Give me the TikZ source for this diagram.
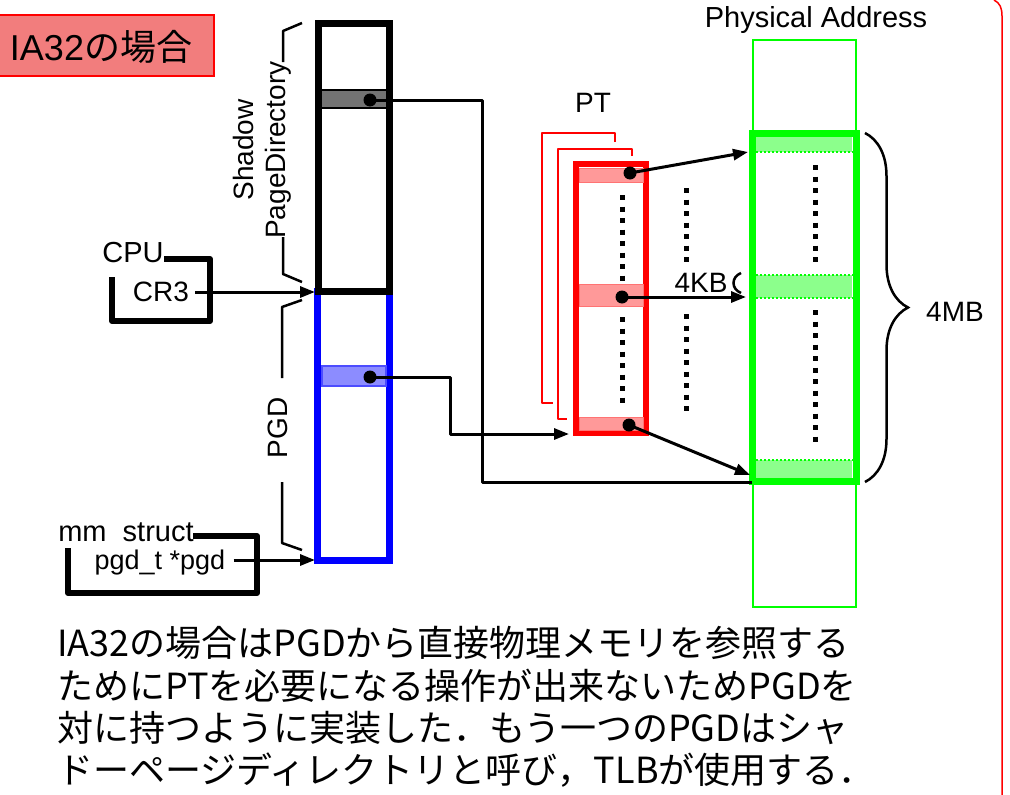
\documentclass[tikz,border=0pt]{standalone}
\usepackage{fontspec}
\setmainfont{Liberation Sans}
\newfontfamily\cjk{Noto Sans CJK JP}
\usetikzlibrary{arrows.meta,decorations.pathreplacing,calc}
\definecolor{pgreen}{RGB}{0,255,0}
\definecolor{pblue}{RGB}{0,0,255}
\definecolor{pred}{RGB}{255,0,0}
\definecolor{titlefill}{RGB}{242,125,125}
\begin{document}
\begin{tikzpicture}[x=1pt,y=-1pt,
  box/.style={shape=rectangle,inner sep=0pt},
  lab/.style={inner sep=0pt,font=\fontsize{28}{32}\selectfont},
  btext/.style={inner sep=0pt,anchor=base west,font=\cjk\fontsize{36}{40}\selectfont},
  conn/.style={line width=3,line join=round},
  arr/.style={conn,-{Triangle[length=15pt,width=11pt]}},
  dotcol/.style={line width=5,dash pattern=on 5pt off 6.5pt},
  bracket/.style={line width=2.5,line join=round},
  holder/.style={line width=6,line join=round}]
\useasboundingbox (0,0) rectangle (1010,795);

% title
\node[box,draw=pred,line width=2,fill=titlefill,minimum width=217,minimum height=61] (title) at (105.5,45.5) {};
\node[inner sep=0pt,font=\fontsize{36}{40}\selectfont] (titletext) at (101,47) {IA32{\cjk の場合}};

% right page border
\draw[pred,line width=1.5] (994,0) .. controls (1000,3) and (1002,8) .. (1002,16) -- (1002,795);

% Physical memory
\node[box,draw=pgreen,line width=2,minimum width=103,minimum height=567] (pmem) at (804.5,323.5) {};
\node[box,draw=pgreen,line width=7,minimum width=104,minimum height=348] (pa) at (804,307) {};
\node[box,fill=pgreen!45,minimum width=96,minimum height=15] (g1) at (804,144.5) {};
\node[box,fill=pgreen!45,minimum width=96,minimum height=23] (g2) at (804,286.5) {};
\node[box,fill=pgreen!45,minimum width=96,minimum height=18] (g3) at (804,469) {};
\draw[pgreen,line width=2,dotted] (g1.south west) -- (g1.south east);
\draw[pgreen,line width=2,dotted] (g2.north west) -- (g2.north east) (g2.south west) -- (g2.south east);
\draw[pgreen,line width=2,dotted] (g3.north west) -- (g3.north east);
\node[lab,font=\fontsize{29}{32}\selectfont] (physlabel) at (816,20) {Physical Address};
\draw[dotcol] (815,165) -- (815,268);
\draw[dotcol] (815,310) -- (815,445);

% 4MB brace
\draw[decorate,decoration={brace,amplitude=43pt,aspect=0.5},line width=2.5] (865,133) -- (865,482);
\node[lab] (fourmb) at (955,312) {4MB};

% PT stack
\draw[pred,line width=2.5,line join=round] (615,142) -- (615,133) -- (542,133) -- (542,403) -- (553,403);
\draw[pred,line width=2.5,line join=round] (632,156) -- (632,149) -- (558,149) -- (558,419) -- (567,419);
\node[box,draw=pred,line width=6,minimum width=70,minimum height=269] (pt) at (611,298.5) {};
\node[box,fill=pred!40,draw=pred!55,line width=1,minimum width=64,minimum height=14] (r1) at (611,175) {};
\node[box,fill=pred!40,draw=pred!55,line width=1,minimum width=64,minimum height=22] (r2) at (611,295) {};
\node[box,fill=pred!40,draw=pred!55,line width=1,minimum width=64,minimum height=13] (r3) at (611,423.5) {};
\node[lab] (ptlabel) at (593,103) {PT};
\draw[dotcol] (622,195) -- (622,282);
\draw[dotcol] (622,317) -- (622,404);
\draw[dotcol] (686,188) -- (686,266);
\draw[dotcol] (686,314) -- (686,412);
\node[lab] (fourkb) at (701,283) {4KB};
\draw[line width=2.5] (741,273) .. controls (731,277) and (731,289) .. (741,293);

% Shadow page directory and PGD
\node[box,draw=pblue,line width=7,minimum width=72.5,minimum height=269] (pgd) at (353.25,425.5) {};
\node[box,fill=pblue!45,draw=pblue!70,line width=1.5,minimum width=64,minimum height=20] (b1) at (354,376) {};
\node[box,draw=black,line width=7,minimum width=71,minimum height=268] (spd) at (354,157.5) {};
\node[box,fill=black!55,minimum width=64,minimum height=18] (k1) at (354,99) {};
\draw[line width=2] (k1.north west) -- (k1.north east) (k1.south west) -- (k1.south east);

% brackets and rotated labels
\draw[bracket] (302,23) -- (283,31) -- (283,62);
\draw[bracket] (283,237) -- (283,274) -- (302,282);
\node[lab,rotate=90,align=center] (spdlabel) at (262,150) {Shadow\\PageDirectory};
\draw[bracket] (302,300) -- (282,307) -- (282,378);
\draw[bracket] (282,482) -- (282,543) -- (302,550);
\node[lab,rotate=90] (pgdlabel) at (278,428) {PGD};

% CPU
\draw[holder] (164,259) -- (210,259) -- (210,321) -- (112,321) -- (112,277);
\node[lab,font=\fontsize{29}{32}\selectfont] (cpu) at (133,253) {CPU};
\node[lab] (cr3) at (161,292) {CR3};
\draw[arr] ([xshift=6pt]cr3.east) -- (spd.west |- cr3);

% mm struct
\draw[holder] (193,536) -- (257,536) -- (257,593) -- (68,593) -- (68,548);
\node[lab,font=\fontsize{29}{32}\selectfont] (mm) at (126,532) {mm\ \ struct};
\node[lab,font=\fontsize{27}{32}\selectfont] (pgdt) at (160,563) {pgd\_t *pgd};
\coordinate (pgdin) at (315,560);
\draw[arr] ([xshift=8pt]pgdt.east |- pgdin) -- (pgdin);

% connectors
\coordinate (d1) at (370,100);
\coordinate (d2) at (370,377);
\coordinate (d3) at (630,173);
\coordinate (d4) at (622,297);
\coordinate (d5) at (629,425);
\coordinate (c1a) at (482,100);
\coordinate (c1b) at (482,482);
\coordinate (c2a) at (450,377);
\coordinate (c2b) at (450,434);
\coordinate (t1) at (748,152);
\coordinate (t2) at (746,297);
\coordinate (t3) at (750,475);
\coordinate (t4) at (752,482);
\coordinate (t5) at (569,434);
\draw[conn] (d1) -- (c1a) -- (c1b) -- (t4);
\draw[arr] (d2) -- (c2a) -- (c2b) -- (t5);
\draw[arr] (d3) -- (t1);
\draw[arr] (d4) -- (t2);
\draw[arr] (d5) -- (t3);
\foreach \d in {d1,d2,d3,d4,d5} \fill (\d) circle (6.5);

% bottom text
\node[btext] (l1) at (57,656) {IA32の場合はPGDから直接物理メモリを参照する};
\node[btext] (l2) at (57,699) {ためにPTを必要になる操作が出来ないためPGDを};
\node[btext] (l3) at (57,741) {対に持つように実装した．もう一つのPGDはシャ};
\node[btext] (l4) at (57,783) {ドーページディレクトリと呼び，TLBが使用する．};
\end{tikzpicture}
\end{document}
